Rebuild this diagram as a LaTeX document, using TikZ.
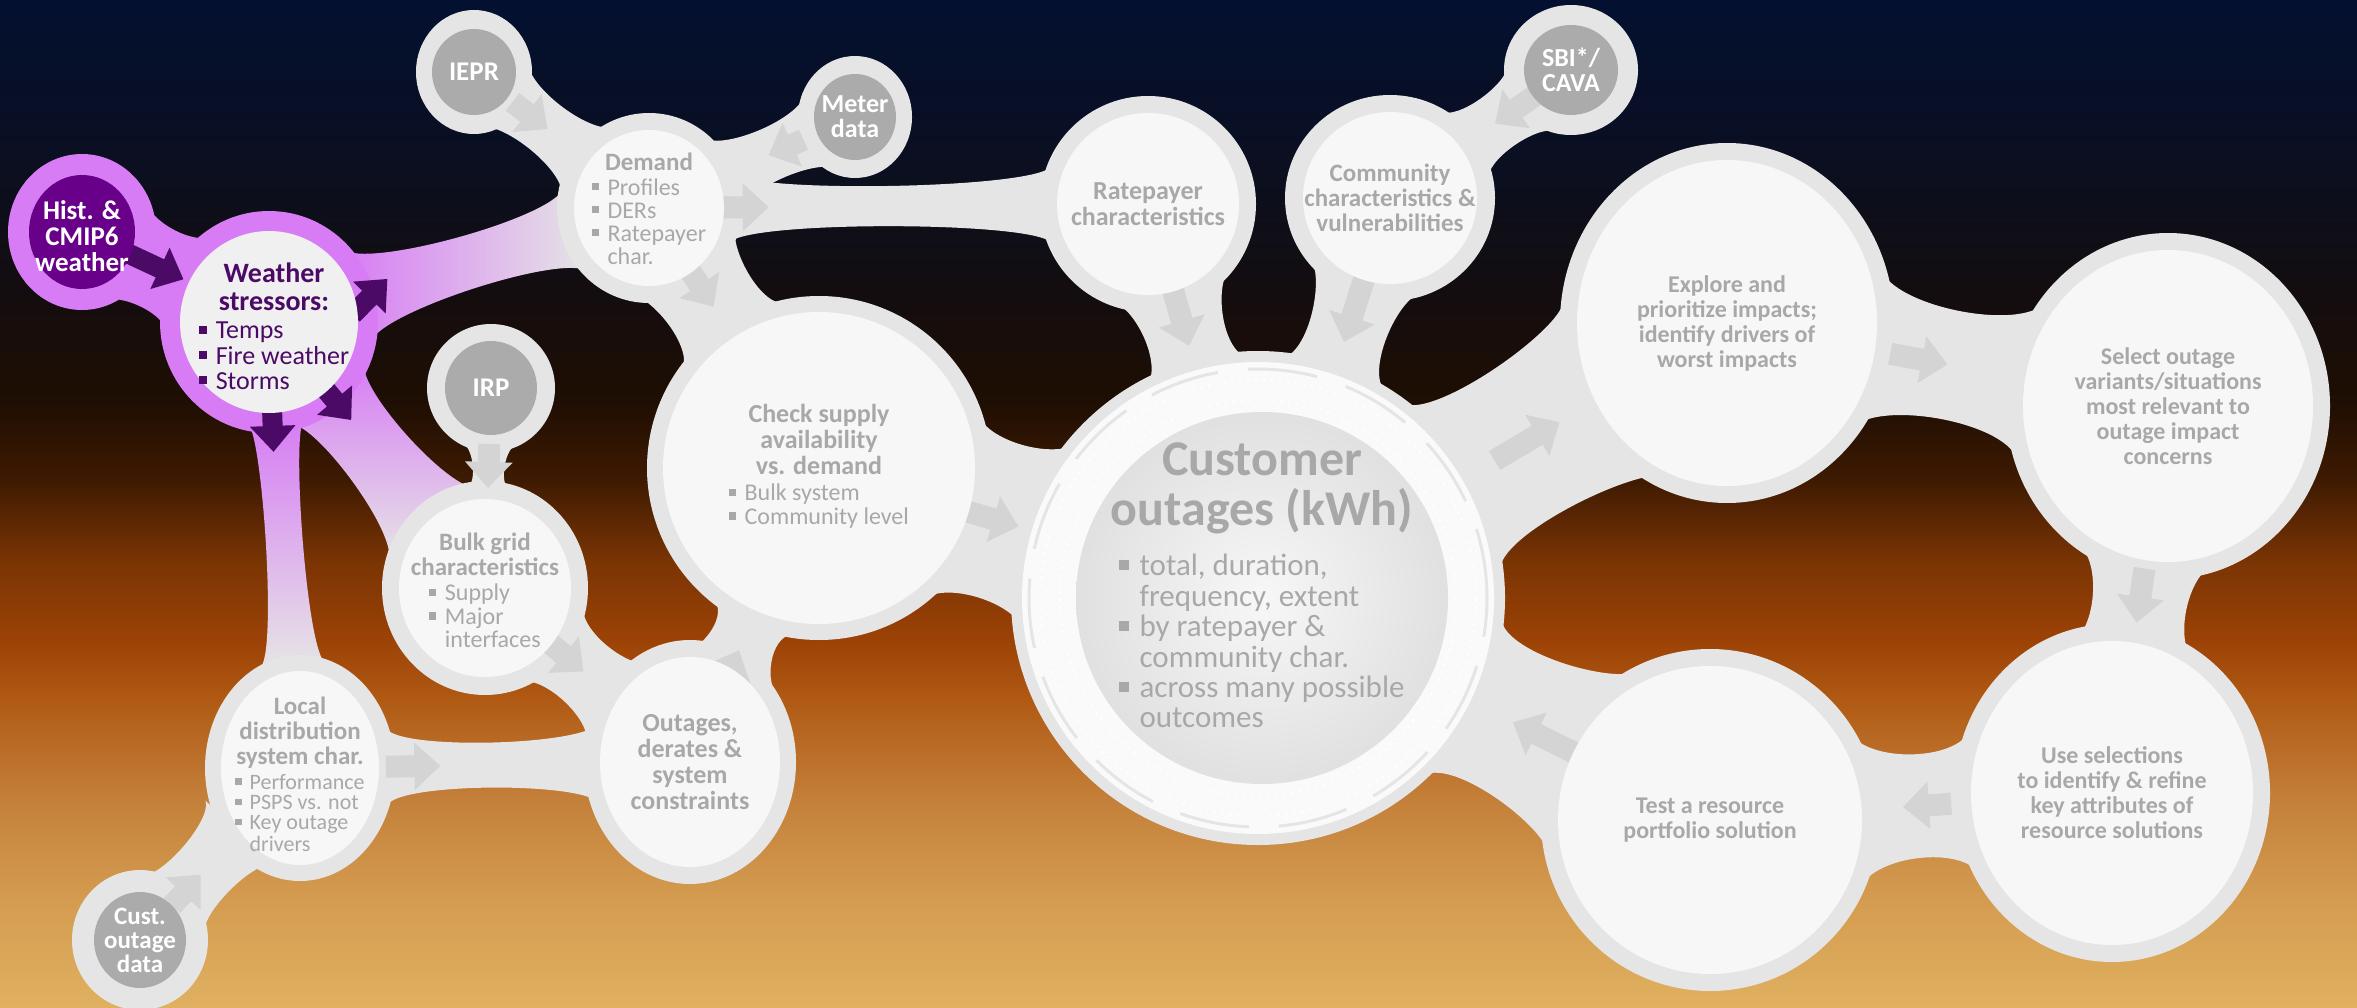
\documentclass[tikz,border=0pt]{standalone}
\usepackage{fontspec}
\setmainfont{Carlito}
\usetikzlibrary{calc,arrows.meta,shapes.geometric}

\definecolor{bg0}{HTML}{031030}
\definecolor{bg1}{HTML}{0A0F22}
\definecolor{bg2}{HTML}{140D0E}
\definecolor{bg3}{HTML}{1E0E03}
\definecolor{bg4}{HTML}{3E1A02}
\definecolor{bg5}{HTML}{7A3404}
\definecolor{bg6}{HTML}{9C4206}
\definecolor{bg7}{HTML}{B05A14}
\definecolor{bg8}{HTML}{C4803A}
\definecolor{bg9}{HTML}{D49C50}
\definecolor{bg10}{HTML}{E0B060}
\definecolor{bandc}{HTML}{E5E5E5}
\definecolor{diskc}{HTML}{F7F7F7}
\definecolor{datac}{HTML}{ABABAB}
\definecolor{txtc}{HTML}{A8A8A8}
\definecolor{lavc}{HTML}{D77CF4}
\definecolor{lavlight}{HTML}{E8CDF0}
\definecolor{histc}{HTML}{68008A}
\definecolor{dpurp}{HTML}{4A0A66}
\definecolor{arrc}{HTML}{D4D4D4}

% y (px from top) -> bp = 75 - 50*y/1008
\pgfdeclareverticalshading{bgshade}{100bp}{color(0bp)=(bg10); color(25bp)=(bg10); color(30.36bp)=(bg9); color(35.32bp)=(bg8); color(40.28bp)=(bg7); color(43.25bp)=(bg6); color(47.2bp)=(bg5); color(51.2bp)=(bg4); color(55.16bp)=(bg3); color(60.12bp)=(bg2); color(67.56bp)=(bg1); color(75bp)=(bg0); color(100bp)=(bg0)}

\pgfdeclarelayer{bgl}
\pgfdeclarelayer{bands}
\pgfdeclarelayer{rings}
\pgfdeclarelayer{arrows}
\pgfsetlayers{bgl,bands,rings,arrows,main}

\newcommand\bul{\raisebox{0.2em}{\rule{0.3em}{0.3em}}}
\newcommand\blist[1]{\begin{tabular}[t]{@{}l@{\hspace{0.35em}}l@{}}#1\end{tabular}}

% #1 style, #2 A, #3 B, #4 rA, #5 rB, #6 spread A, #7 spread B, #8 fillet A, #9 fillet B
\newcommand\bridge[9][fill=bandc]{%
 \path[#1] let \p1=(#2), \p2=(#3), \n1={atan2(\y2-\y1,\x2-\x1)} in
  ($(#2)+(\n1+#6:#4pt)$)
  .. controls ($(#2)+(\n1+#6:#4pt)+(\n1+#6-90:#8pt)$) and ($(#3)+(\n1+180-#7:#5pt)+(\n1+270-#7:#9pt)$) ..
  ($(#3)+(\n1+180-#7:#5pt)$) -- ($(#3)+(\n1+180+#7:#5pt)$)
  .. controls ($(#3)+(\n1+180+#7:#5pt)+(\n1+90+#7:#9pt)$) and ($(#2)+(\n1-#6:#4pt)+(\n1-#6+90:#8pt)$) ..
  ($(#2)+(\n1-#6:#4pt)$) -- cycle;}

\begin{document}
\begin{tikzpicture}[x=1pt,y=-1pt,
  ring/.style={ellipse, fill=bandc, inner sep=0pt, draw=none},
  disk/.style={ellipse, fill=diskc, inner sep=0pt, draw=none},
  datadisk/.style={ellipse, fill=datac, inner sep=0pt, draw=none},
  lbl/.style={align=center, text=txtc, inner sep=0pt},
  datalbl/.style={align=center, text=white, inner sep=0pt, font=\bfseries\fontsize{26}{25}\selectfont},
  garrow/.style={draw=arrc, line width=22pt, -{Triangle[length=26pt,width=46pt]}},
  parrow/.style={draw=dpurp, line width=20pt, -{Triangle[length=26pt,width=44pt]}}]

\begin{pgfonlayer}{bgl}
\path[shading=bgshade] (0,0) rectangle (2357,1008);
\end{pgfonlayer}
\useasboundingbox (0,0) rectangle (2357,1008);

% ---------- outer rings ----------
\begin{pgfonlayer}{rings}
\node[ring, fill=lavc, minimum width=148pt, minimum height=156pt] (hist-o) at (82,232) {};
\node[ring, fill=lavc, minimum width=218pt, minimum height=222pt] (weather-o) at (269,322) {};
\node[ring, minimum width=116pt, minimum height=124pt] (iepr-o) at (474,72) {};
\node[ring, minimum width=114pt, minimum height=122pt] (meter-o) at (855,117) {};
\node[ring, minimum width=184pt, minimum height=190pt] (demand-o) at (649,208) {};
\node[ring, minimum width=216pt, minimum height=216pt] (rate-o) at (1148,204) {};
\node[ring, minimum width=210pt, minimum height=206pt] (comm-o) at (1390,198) {};
\node[ring, minimum width=134pt, minimum height=130pt] (sbi-o) at (1571,70) {};
\node[ring, minimum width=128pt, minimum height=128pt] (irp-o) at (491,388) {};
\node[ring, minimum width=206pt, minimum height=214pt] (bulk-o) at (485,588) {};
\node[ring, minimum width=344pt, minimum height=344pt] (check-o) at (819,468) {};
\node[ring, minimum width=494pt, minimum height=494pt] (cust-o) at (1258,598) {};
\node[ring, minimum width=334pt, minimum height=360pt] (explore-o) at (1727,323) {};
\node[ring, minimum width=324pt, minimum height=346pt] (select-o) at (2168,406) {};
\node[ring, minimum width=316pt, minimum height=338pt] (use-o) at (2112,793) {};
\node[ring, minimum width=338pt, minimum height=342pt] (test-o) at (1710,820) {};
\node[ring, minimum width=212pt, minimum height=244pt] (outage-o) at (690,762) {};
\node[ring, minimum width=190pt, minimum height=226pt] (local-o) at (300,768) {};
\node[ring, minimum width=136pt, minimum height=140pt] (custd-o) at (140,940) {};
\end{pgfonlayer}

% ---------- inner disks ----------
\node[disk, fill=histc, minimum width=106pt, minimum height=114pt] (hist) at (82,232) {};
\node[disk, fill=diskc!97!black, minimum width=178pt, minimum height=182pt] (weather) at (269,322) {};
\node[datadisk, minimum width=84pt, minimum height=86pt] (iepr) at (474,72) {};
\node[datadisk, minimum width=82pt, minimum height=86pt] (meter) at (855,117) {};
\node[disk, minimum width=150pt, minimum height=156pt] (demand) at (649,208) {};
\node[disk, minimum width=182pt, minimum height=182pt] (rate) at (1148,204) {};
\node[disk, minimum width=174pt, minimum height=172pt] (comm) at (1390,198) {};
\node[datadisk, minimum width=94pt, minimum height=90pt] (sbi) at (1571,70) {};
\node[datadisk, minimum width=92pt, minimum height=94pt] (irp) at (491,388) {};
\node[disk, minimum width=172pt, minimum height=178pt] (bulk) at (485,588) {};
\node[disk, minimum width=312pt, minimum height=312pt] (check) at (819,468) {};
\fill[diskc!60!white] (cust-o) circle[radius=236pt];
\draw[bandc, line width=3pt, dash pattern=on 70pt off 30pt] (cust-o) circle[radius=229pt];
\draw[white, line width=3pt, line cap=round, dash pattern=on 0pt off 8pt] (cust-o) circle[radius=218pt];
\draw[white, line width=3pt, line cap=round, dash pattern=on 0pt off 8pt] (cust-o) circle[radius=198pt];
\node[ellipse, inner sep=0pt, inner color=diskc, outer color=black!12, minimum width=372pt, minimum height=372pt] (cust) at (1262,598) {};
\node[disk, minimum width=300pt, minimum height=326pt] (explore) at (1727,323) {};
\node[disk, minimum width=290pt, minimum height=312pt] (select) at (2168,406) {};
\node[disk, minimum width=282pt, minimum height=304pt] (use) at (2112,793) {};
\node[disk, minimum width=304pt, minimum height=308pt] (test) at (1710,820) {};
\node[disk, minimum width=180pt, minimum height=210pt] (outage) at (690,762) {};
\node[disk, minimum width=158pt, minimum height=194pt] (local) at (300,768) {};
\node[datadisk, minimum width=92pt, minimum height=96pt] (custd) at (140,940) {};

% ---------- bands ----------
\begin{pgfonlayer}{bands}
\bridge[fill=lavc]{hist}{weather}{70}{100}{50}{35}{25}{25}
\bridge[left color=lavc, right color=bandc]{weather}{demand}{104}{88}{28}{30}{30}{30}
\bridge[top color=lavc, middle color=lavlight, bottom color=bandc]{weather}{local}{104}{108}{16}{18}{15}{20}
\bridge[top color=lavc, middle color=lavlight, bottom color=bandc]{weather}{bulk}{104}{100}{28}{35}{25}{30}
\bridge{iepr}{demand}{55}{88}{45}{30}{25}{25}
\bridge{meter}{demand}{55}{88}{45}{30}{25}{25}
\bridge{demand}{rate}{88}{104}{24}{22}{25}{25}
\bridge{demand}{check}{88}{168}{45}{22}{25}{25}
\bridge{rate}{cust}{104}{240}{35}{14}{25}{30}
\bridge{comm}{cust}{100}{240}{35}{14}{25}{30}
\bridge{sbi}{comm}{63}{100}{40}{25}{20}{20}
\bridge{check}{cust}{168}{240}{35}{25}{30}{30}
\bridge{irp}{bulk}{62}{100}{25}{14}{12}{15}
\bridge{bulk}{outage}{100}{105}{30}{30}{25}{25}
\bridge{local}{outage}{95}{100}{24}{24}{25}{25}
\bridge{outage}{check}{110}{168}{28}{16}{20}{25}
\bridge{custd}{local}{65}{100}{40}{28}{20}{20}
\bridge{cust}{explore}{240}{165}{24}{38}{35}{30}
\bridge{cust}{test}{240}{165}{22}{38}{35}{30}
\bridge{explore}{select}{163}{160}{30}{30}{40}{40}
\bridge{select}{use}{165}{155}{25}{25}{30}{30}
\bridge{use}{test}{155}{165}{28}{28}{35}{35}
\end{pgfonlayer}

% ---------- arrows ----------
\begin{pgfonlayer}{arrows}
\draw[parrow] ($(hist)+(-25:45pt)$) -- ($(hist)+(-25:112pt)$);
\draw[parrow] ($(weather)+(5:84pt)$) -- ($(weather)+(20:126pt)$);
\draw[parrow] ($(weather)+(-88:80pt)$) -- ($(weather)+(-88:130pt)$);
\draw[parrow] ($(weather)+(-50:80pt)$) -- ($(weather)+(-50:128pt)$);
\draw[garrow] ($(iepr)!0.22!(demand)$) -- ($(iepr)!0.42!(demand)$);
\draw[garrow] ($(meter)!0.25!(demand)$) -- ($(meter)!0.42!(demand)$);
\draw[garrow] ($(demand)!0.14!(rate)$) -- ($(demand)!0.24!(rate)$);
\draw[garrow] ($(demand)!0.2!(check)$) -- ($(demand)!0.38!(check)$);
\draw[garrow] ($(rate)!0.2!(cust)$) -- ($(rate)!0.36!(cust)$);
\draw[garrow] ($(comm)!0.2!(cust)$) -- ($(comm)!0.36!(cust)$);
\draw[garrow] ($(sbi)!0.2!(comm)$) -- ($(sbi)!0.42!(comm)$);
\draw[garrow] ($(check)!0.32!(cust)$) -- ($(check)!0.45!(cust)$);
\draw[garrow] ($(irp)!0.28!(bulk)$) -- ($(irp)!0.5!(bulk)$);
\draw[garrow] ($(bulk)!0.3!(outage)$) -- ($(bulk)!0.48!(outage)$);
\draw[garrow] ($(local)!0.22!(outage)$) -- ($(local)!0.36!(outage)$);
\draw[garrow] ($(outage)!0.2!(check)$) -- ($(outage)!0.38!(check)$);
\draw[garrow] ($(custd)!0.2!(local)$) -- ($(custd)!0.38!(local)$);
\draw[garrow] ($(cust)!0.5!(explore)$) -- ($(cust)!0.64!(explore)$);
\draw[garrow] ($(explore)!0.37!(select)$) -- ($(explore)!0.5!(select)$);
\draw[garrow] ($(select)!0.42!(use)$) -- ($(select)!0.56!(use)$);
\draw[garrow] ($(use)!0.4!(test)$) -- ($(use)!0.52!(test)$);
\draw[garrow] ($(test)!0.3!(cust)$) -- ($(test)!0.44!(cust)$);
\end{pgfonlayer}

% ---------- labels ----------
\node[datalbl, font=\bfseries\fontsize{27}{26}\selectfont] (hist-t) at (82,236) {Hist. \&\\CMIP6\\weather};
\node[lbl, text=dpurp, font=\bfseries\fontsize{28}{28}\selectfont] (weather-t) at (274,330)
  {Weather\\stressors:\\{\mdseries\fontsize{26}{25}\selectfont\blist{\bul & Temps\\ \bul & Fire weather\\ \bul & Storms}}};
\node[datalbl, font=\bfseries\fontsize{27}{26}\selectfont] (iepr-t) at (iepr) {IEPR};
\node[datalbl] (meter-t) at (meter) {Meter\\data};
\node[lbl, font=\bfseries\fontsize{25}{25}\selectfont] (demand-t) at (649,212)
  {Demand\\{\mdseries\fontsize{24}{23}\selectfont\blist{\bul & Profiles\\ \bul & DERs\\ \bul & Ratepayer\\ & char.}}};
\node[lbl, font=\bfseries\fontsize{26}{26}\selectfont] (rate-t) at (rate) {Ratepayer\\characteristics};
\node[lbl, font=\bfseries\fontsize{25}{25}\selectfont] (comm-t) at (comm) {Community\\characteristics \&\\vulnerabilities};
\node[datalbl] (sbi-t) at (sbi) {SBI*/\\CAVA};
\node[datalbl, font=\bfseries\fontsize{27}{26}\selectfont] (irp-t) at (irp) {IRP};
\node[lbl, font=\bfseries\fontsize{25}{25}\selectfont] (bulk-t) at (485,594)
  {Bulk grid\\characteristics\\{\mdseries\fontsize{24}{23}\selectfont\blist{\bul & Supply\\ \bul & Major\\ & interfaces}}};
\node[lbl, font=\bfseries\fontsize{26}{26}\selectfont] (check-t) at (check)
  {Check supply\\availability\\vs. demand\\{\mdseries\fontsize{24}{23}\selectfont\blist{\bul & Bulk system\\ \bul & Community level}}};
\node[lbl, font=\bfseries\fontsize{50}{50}\selectfont] (cust-t) at (1262,590)
  {Customer\\outages (kWh)\\{\mdseries\fontsize{31}{30}\selectfont\blist{\bul & total, duration,\\ & frequency, extent\\ \bul & by ratepayer \&\\ & community char.\\ \bul & across many possible\\ & outcomes}}};
\node[lbl, font=\bfseries\fontsize{24}{25}\selectfont] (explore-t) at (explore) {Explore and\\prioritize impacts;\\identify drivers of\\worst impacts};
\node[lbl, font=\bfseries\fontsize{24}{25}\selectfont] (select-t) at (select) {Select outage\\variants/situations\\most relevant to\\outage impact\\concerns};
\node[lbl, font=\bfseries\fontsize{24}{25}\selectfont] (use-t) at (use) {Use selections\\to identify \& refine\\key attributes of\\resource solutions};
\node[lbl, font=\bfseries\fontsize{24}{25}\selectfont] (test-t) at (test) {Test a resource\\portfolio solution};
\node[lbl, font=\bfseries\fontsize{26}{26}\selectfont] (outage-t) at (outage) {Outages,\\derates \&\\system\\constraints};
\node[lbl, font=\bfseries\fontsize{25}{25}\selectfont] (local-t) at (300,777)
  {Local\\distribution\\system char.\\{\mdseries\fontsize{22}{20}\selectfont\blist{\bul & Performance\\ \bul & PSPS vs. not\\ \bul & Key outage\\ & drivers}}};
\node[datalbl, font=\bfseries\fontsize{25}{24}\selectfont] (custd-t) at (custd) {Cust.\\outage\\data};
\end{tikzpicture}
\end{document}
